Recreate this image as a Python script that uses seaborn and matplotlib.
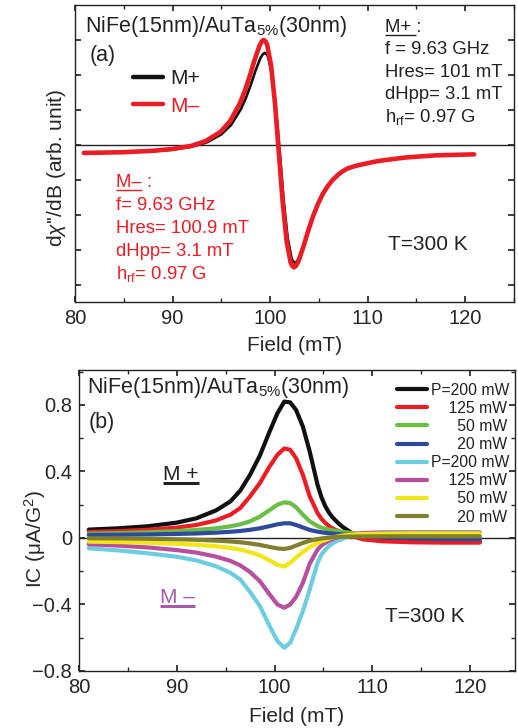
import matplotlib
matplotlib.use("Agg")
import matplotlib.pyplot as plt
from matplotlib.ticker import MultipleLocator
import seaborn as sns

# ---- panel (a): FMR derivative spectra -------------------------------
field_a_plus = [81, 85, 88, 90, 92, 93.5, 95, 96, 97, 97.5, 98, 98.5, 99, 99.25,
                99.45, 99.65, 99.8, 100.2, 100.6, 101, 101.4, 101.8, 102.2, 102.35,
                102.55, 102.75, 103, 103.5, 104, 104.5, 105, 105.5, 106, 106.5, 107,
                107.5, 108, 108.5, 109, 110, 111, 112, 114, 117, 121]
dchi_plus = [-0.23, -0.21, -0.18, -0.135, -0.05, 0.07, 0.30, 0.57, 1.02, 1.33, 1.70,
             2.12, 2.48, 2.59, 2.63, 2.59, 2.51, 1.98, 1.02, -0.25, -1.62, -2.66,
             -3.24, -3.33, -3.37, -3.33, -3.21, -2.81, -2.37, -1.96, -1.63, -1.36,
             -1.14, -0.97, -0.85, -0.74, -0.66, -0.61, -0.57, -0.51, -0.46, -0.42,
             -0.36, -0.30, -0.27]
field_a_minus = [80.9, 84.9, 87.9, 89.9, 91.9, 93.4, 94.9, 95.9, 96.9, 97.4, 97.9,
                 98.4, 98.9, 99.15, 99.35, 99.55, 99.7, 100.1, 100.5, 100.9, 101.3,
                 101.7, 102.1, 102.25, 102.45, 102.65, 102.9, 103.4, 103.9, 104.4,
                 104.9, 105.4, 105.9, 106.4, 106.9, 107.4, 107.9, 108.4, 108.9, 109.9,
                 110.9, 111.9, 113.9, 116.9, 120.9]
dchi_minus = [-0.23, -0.21, -0.17, -0.12, -0.03, 0.11, 0.37, 0.68, 1.19, 1.54, 1.96,
              2.42, 2.83, 2.96, 3.00, 2.95, 2.86, 2.27, 1.18, -0.25, -1.68, -2.77,
              -3.36, -3.455, -3.50, -3.46, -3.33, -2.92, -2.46, -2.04, -1.69, -1.40,
              -1.18, -1.005, -0.87, -0.76, -0.68, -0.63, -0.59, -0.53, -0.47, -0.43,
              -0.36, -0.30, -0.27]

# ---- panel (b): inverse spin Hall current ----------------------------
field_b = [81, 84, 87, 90, 92, 94, 95.5, 96.5, 97.5, 98.5, 99.5, 100.3, 101, 101.6,
           102.2, 102.9, 103.6, 104.4, 104.8, 105.2, 105.6, 106, 106.5, 107, 107.9,
           109, 111, 114, 117, 121]
ic_plus_200 = [0.050, 0.058, 0.070, 0.092, 0.118, 0.165, 0.220, 0.285, 0.380, 0.495,
               0.640, 0.750, 0.820, 0.815, 0.770, 0.670, 0.520, 0.320, 0.245, 0.190,
               0.150, 0.120, 0.090, 0.065, 0.030, 0.005, -0.012, -0.020, -0.022, -0.022]
ic_plus_125 = [0.036, 0.041, 0.049, 0.062, 0.078, 0.105, 0.140, 0.180, 0.250, 0.330,
               0.430, 0.500, 0.538, 0.530, 0.480, 0.380, 0.250, 0.150, 0.115, 0.090,
               0.070, 0.055, 0.042, 0.030, 0.012, -0.008, -0.020, -0.026, -0.028, -0.028]
ic_plus_50 = [0.026, 0.029, 0.034, 0.041, 0.048, 0.058, 0.070, 0.082, 0.100, 0.128,
              0.168, 0.200, 0.214, 0.210, 0.185, 0.140, 0.100, 0.072, 0.062, 0.055,
              0.050, 0.045, 0.040, 0.036, 0.030, 0.020, 0.008, 0.000, -0.003, -0.005]
ic_plus_20 = [0.018, 0.019, 0.021, 0.024, 0.027, 0.032, 0.037, 0.042, 0.049, 0.058,
              0.071, 0.082, 0.088, 0.088, 0.078, 0.063, 0.048, 0.038, 0.034, 0.031,
              0.028, 0.026, 0.023, 0.021, 0.018, 0.012, 0.005, -0.002, -0.006, -0.008]
ic_minus_200 = [-0.062, -0.075, -0.092, -0.113, -0.135, -0.170, -0.210, -0.250, -0.325,
                -0.410, -0.530, -0.620, -0.660, -0.630, -0.550, -0.440, -0.310, -0.150,
                -0.100, -0.070, -0.048, -0.030, -0.016, -0.005, 0.015, 0.028, 0.033,
                0.035, 0.035, 0.035]
ic_minus_125 = [-0.038, -0.046, -0.057, -0.073, -0.088, -0.112, -0.138, -0.165, -0.205,
                -0.260, -0.340, -0.400, -0.420, -0.400, -0.355, -0.270, -0.155, -0.070,
                -0.045, -0.030, -0.016, -0.005, 0.004, 0.012, 0.022, 0.030, 0.032,
                0.032, 0.032, 0.032]
ic_minus_50 = [-0.022, -0.025, -0.029, -0.035, -0.041, -0.050, -0.060, -0.070, -0.085,
               -0.105, -0.135, -0.162, -0.172, -0.150, -0.118, -0.085, -0.055, -0.030,
               -0.020, -0.012, -0.004, 0.004, 0.010, 0.015, 0.020, 0.024, 0.026, 0.028,
               0.028, 0.028]
ic_minus_20 = [-0.002, -0.003, -0.005, -0.008, -0.011, -0.016, -0.021, -0.026, -0.033,
               -0.042, -0.054, -0.063, -0.066, -0.060, -0.046, -0.030, -0.017, -0.007,
               -0.003, 0.000, 0.002, 0.004, 0.006, 0.007, 0.008, 0.009, 0.010, 0.010,
               0.010, 0.010]

series_b = [ic_plus_200, ic_plus_125, ic_plus_50, ic_plus_20,
            ic_minus_200, ic_minus_125, ic_minus_50, ic_minus_20]
labels_b = ["P=200 mW", "\u2007\u2007125 mW", "\u2007\u2007\u200750 mW",
            "\u2007\u2007\u200720 mW", "P=200 mW", "\u2007\u2007125 mW",
            "\u2007\u2007\u200750 mW", "\u2007\u2007\u200720 mW"]
colors_b = ["#111111", "#ec1c24", "#6abd45", "#2f4a9c",
            "#6dcde0", "#b84f9e", "#f2e617", "#7f7f2d"]

RED = "#ed1c24"
PURPLE = "#a859a8"

sns.set_theme(style="ticks")
plt.rcParams.update({
    "font.family": ["Liberation Sans", "DejaVu Sans"],
    "mathtext.fontset": "custom",
    "mathtext.rm": "Liberation Sans",
    "mathtext.it": "Liberation Sans:italic",
    "mathtext.bf": "Liberation Sans:bold",
    "axes.linewidth": 1.0,
    "axes.edgecolor": "#222222",
    "xtick.direction": "in",
    "ytick.direction": "in",
    "xtick.top": True,
    "ytick.right": True,
    "xtick.major.size": 4.5,
    "ytick.major.size": 4.5,
    "xtick.minor.size": 3,
    "ytick.minor.size": 3,
    "xtick.labelsize": 14.5,
    "ytick.labelsize": 14.5,
    "axes.labelsize": 15,
    "text.color": "#222222",
})

fig = plt.figure(figsize=(5.18, 7.28), dpi=100)
ax_a = fig.add_axes([0.1448, 0.5852, 0.8475, 0.408])
ax_b = fig.add_axes([0.1525, 0.0783, 0.8417, 0.4135])


def underline(ax, x, y, text, size, color, lw):
    """draw a line under `text` placed at (x, y) in axes coords (baseline)"""
    probe = ax.text(x, y, text, transform=ax.transAxes, fontsize=size,
                    va="baseline", color="none")
    fig.canvas.draw()
    bb = probe.get_window_extent()
    probe.remove()
    _, yb = ax.transAxes.transform((x, y))
    inv = ax.transAxes.inverted()
    (x0, y0), (x1, _) = inv.transform([(bb.x0, yb - 3), (bb.x1, yb - 3)])
    ax.plot([x0, x1], [y0, y0], transform=ax.transAxes, color=color, lw=lw,
            clip_on=False, solid_capstyle="butt")


# ---------------- panel (a) ----------------
ax_a.axhline(0, color="#222222", lw=1.0, zorder=1)
sns.lineplot(x=field_a_plus, y=dchi_plus, ax=ax_a, color="#111111", linewidth=1.9,
             sort=False, estimator=None, label="M+")
sns.lineplot(x=field_a_minus, y=dchi_minus, ax=ax_a, color=RED, linewidth=3.3,
             sort=False, estimator=None, label="M\u2013")
ax_a.set_xlim(80, 125)
ax_a.set_ylim(-4.49, 4.0)
ax_a.xaxis.set_major_locator(MultipleLocator(10))
ax_a.xaxis.set_minor_locator(MultipleLocator(5))
ax_a.set_yticks(range(-4, 4))
ax_a.set_yticklabels([])
ax_a.tick_params(axis="x", which="major", pad=5)
ax_a.set_xlabel("Field (mT)", labelpad=5.5)
ax_a.set_ylabel("d$\\chi$''/dB (arb. unit)")
ax_a.yaxis.set_label_coords(-0.016, 0.45)

leg_a = ax_a.legend(loc="upper left", bbox_to_anchor=(0.132, 0.785), frameon=False,
                    fontsize=15, handlelength=1.45, handletextpad=0.35,
                    labelspacing=0.42, borderpad=0, borderaxespad=0)
for h in leg_a.legend_handles:
    h.set_linewidth(3.2)
leg_a.get_texts()[1].set_color(RED)

ax_a.text(0.023, 0.910, "NiFe(15nm)/AuTa$_{5\\%}$(30nm)", transform=ax_a.transAxes,
          fontsize=15.5, va="baseline")
ax_a.text(0.034, 0.8125, "(a)", transform=ax_a.transAxes, fontsize=15.5, va="baseline")

plus_lines = ["M+ :", "f = 9.63 GHz", "Hres= 101 mT", "dHpp= 3.1 mT",
              "h$_{\\rm rf}$= 0.97 G"]
for i, line in enumerate(plus_lines):
    ax_a.text(0.706, 0.910 - i * 0.0758, line, transform=ax_a.transAxes,
              fontsize=13.3, va="baseline")
underline(ax_a, 0.706, 0.910, "M+ ", 13.3, "#222222", 1.0)

minus_lines = ["M\u2013 :", "f= 9.63 GHz", "Hres= 100.9 mT", "dHpp= 3.1 mT",
               "h$_{\\rm rf}$= 0.97 G"]
for i, line in enumerate(minus_lines):
    ax_a.text(0.093, 0.388 - i * 0.0774, line, transform=ax_a.transAxes,
              fontsize=13.3, va="baseline", color=RED)
underline(ax_a, 0.093, 0.388, "M\u2013", 13.3, RED, 1.0)

ax_a.text(0.713, 0.175, "T=300 K", transform=ax_a.transAxes, fontsize=15,
          va="baseline")

# ---------------- panel (b) ----------------
ax_b.axhline(0, color="#222222", lw=1.0, zorder=1)
for vals, lab, col in zip(series_b, labels_b, colors_b):
    sns.lineplot(x=field_b, y=vals, ax=ax_b, color=col, linewidth=3.0, sort=False,
                 estimator=None, label=lab)
ax_b.set_xlim(80, 124.6)
ax_b.set_ylim(-0.8, 1.01)
ax_b.xaxis.set_major_locator(MultipleLocator(10))
ax_b.xaxis.set_minor_locator(MultipleLocator(5))
ax_b.set_yticks([-0.8, -0.4, 0, 0.4, 0.8], ["\u22120.8", "\u22120.4", "0", "0.4", "0.8"])
ax_b.yaxis.set_minor_locator(MultipleLocator(0.2))
ax_b.tick_params(axis="x", which="major", pad=5)
ax_b.tick_params(axis="y", which="major", pad=5)
ax_b.set_xlabel("Field (mT)", labelpad=7)
ax_b.set_ylabel("IC (\u03bcA/G$^2$)")
ax_b.yaxis.set_label_coords(-0.071, 0.44)

leg_b = ax_b.legend(loc="upper left", bbox_to_anchor=(0.729, 0.958), frameon=False,
                    fontsize=11.3, handlelength=1.9, handletextpad=0.3,
                    labelspacing=0.2, borderpad=0, borderaxespad=0)
for h in leg_b.legend_handles:
    h.set_linewidth(3.0)

ax_b.text(0.018, 0.9226, "NiFe(15nm)/AuTa$_{5\\%}$(30nm)", transform=ax_b.transAxes,
          fontsize=15.5, va="baseline")
ax_b.text(0.023, 0.807, "(b)", transform=ax_b.transAxes, fontsize=15.5, va="baseline")
ax_b.text(0.193, 0.635, "M +", transform=ax_b.transAxes, fontsize=15, va="baseline")
underline(ax_b, 0.193, 0.635, "M +", 15, "#222222", 2.2)
ax_b.text(0.186, 0.226, "M \u2013", transform=ax_b.transAxes, fontsize=15,
          va="baseline", color=PURPLE)
underline(ax_b, 0.186, 0.226, "M \u2013", 15, PURPLE, 2.2)
ax_b.text(0.702, 0.164, "T=300 K", transform=ax_b.transAxes, fontsize=15,
          va="baseline")

fig.savefig("out.png", dpi=100)
